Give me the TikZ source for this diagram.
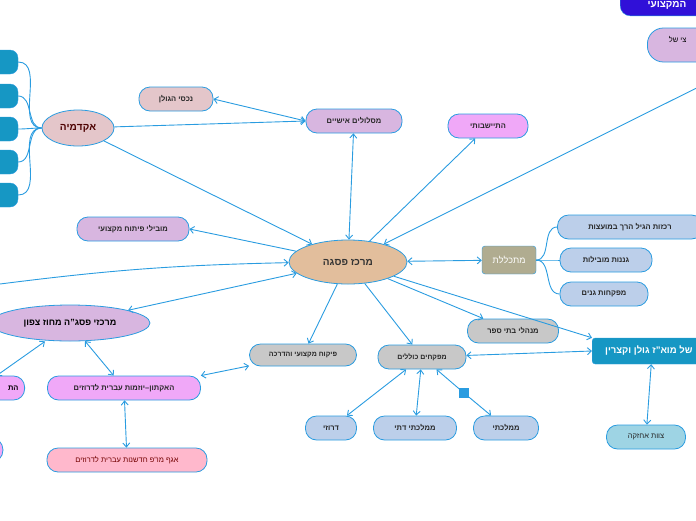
\documentclass[tikz,border=0pt]{standalone}
\usepackage{fontspec}
\setmainfont{Liberation Sans}
\TeXXeTstate=1
\usetikzlibrary{arrows.meta,shapes.geometric}
\newcommand{\R}[1]{\beginR #1\endR}
\definecolor{ln}{HTML}{2A9CE0}
\definecolor{tan}{HTML}{E2BE9C}
\definecolor{rose}{HTML}{E4C6CA}
\definecolor{lil}{HTML}{D8B6E0}
\definecolor{mag}{HTML}{F0A8F8}
\definecolor{pale}{HTML}{BCCFEA}
\definecolor{gry}{HTML}{C8C8C8}
\definecolor{teal}{HTML}{1697C4}
\definecolor{olive}{HTML}{B0AC90}
\definecolor{pnk}{HTML}{FFB8CC}
\definecolor{aq}{HTML}{9ED4E4}
\definecolor{deep}{HTML}{3010D8}
\tikzset{
 box/.style={draw=ln,line width=0.8pt,rounded corners=11pt,minimum height=24pt,font=\fontsize{7.5}{9}\selectfont\bfseries,text=black!85,inner sep=2pt},
 ell/.style={draw=ln,line width=0.8pt,ellipse,inner sep=0pt,font=\fontsize{10}{12}\selectfont\bfseries},
 con/.style={draw=ln,line width=0.9pt},
 ar/.style={con,-{Straight Barb[length=4pt,width=7pt]}},
 ra/.style={con,{Straight Barb[length=4pt,width=7pt]}-},
 bi/.style={con,{Straight Barb[length=4pt,width=7pt]}-{Straight Barb[length=4pt,width=7pt]}},
}
\begin{document}
\begin{tikzpicture}[x=1pt,y=-1pt]
\useasboundingbox (0,0) rectangle (696,520);
\clip (0,0) rectangle (696,520);
% nodes
\node[ell,fill=tan,minimum width=118pt,minimum height=44pt,text=black!80] (c) at (348,262) {\R{מרכז פסגה}};
\node[ell,fill=rose,minimum width=72pt,minimum height=36pt,text=red!30!black] (ak) at (78,128) {\R{אקדמיה}};
\foreach \y [count=\i] in {62,96,129,162,195}
  \node[draw=ln,fill=teal,rounded corners=8pt,minimum width=50pt,minimum height=24pt] (t\i) at (-7,\y) {};
\node[box,fill=rose,minimum width=74pt] (nk) at (176,99) {\R{נכסי הגולן}};
\node[box,fill=lil,minimum width=96pt] (ms) at (354,121) {\R{מסלולים אישיים}};
\node[box,fill=mag,minimum width=80pt] (ht) at (488,126) {\R{התיישבותי}};
\node[box,fill=lil,minimum width=100pt,minimum height=34pt,rounded corners=16pt,anchor=west] (tr) at (647,45) {};
\node[font=\fontsize{7.5}{9}\selectfont,anchor=east] at (690,40) {\R{צי של}};
\node[draw=ln,fill=deep,rounded corners=10pt,minimum width=100pt,minimum height=30pt,anchor=south west] (db) at (620,16) {};
\node[text=white,font=\fontsize{10}{12}\selectfont\bfseries,anchor=east] at (690,5) {\R{המקצועי}};
\node[box,fill=lil,minimum width=112pt] (mb) at (133,229) {\R{מובילי פיתוח מקצועי}};
\node[draw=ln,fill=olive,rounded corners=3pt,minimum width=54pt,minimum height=28pt,text=white,font=\fontsize{9}{10}\selectfont] (mt) at (509,260) {\R{מתכללת}};
\node[box,fill=pale,minimum width=145pt] (r1) at (630,227) {\R{רכזות הגיל הרך במועצות}};
\node[box,fill=pale,minimum width=92pt] (r2) at (606,260) {\R{גננות מובילות}};
\node[box,fill=pale,minimum width=88pt] (r3) at (604,294) {\R{מפקחות גנים}};
\node[ell,fill=lil,minimum width=160pt,minimum height=36pt,font=\fontsize{9}{11}\selectfont\bfseries] (mz) at (70,323) {\R{מרכזי פסג"ה מחוז צפון}};
\node[box,fill=mag,minimum width=56pt,anchor=east] (lp) at (25,388) {};
\node[font=\fontsize{7.5}{9}\selectfont\bfseries,anchor=east] at (22,388) {\R{הת}};
\node[draw=ln,fill=mag,circle,minimum size=26pt,line width=0.8pt] (lc) at (-10,450) {};
\node[box,fill=mag,minimum width=153pt] (ha) at (124,388) {\R{האקתון–יוזמות עברית לדרוזים}};
\node[box,fill=pnk,minimum width=160pt,text=red!45!black,font=\fontsize{7.5}{9}\selectfont] (ag) at (127,460) {\R{אגף מו"פ חדשנות עברית לדרוזים}};
\node[box,fill=gry,minimum width=107pt,minimum height=22pt,font=\fontsize{7}{9}\selectfont\bfseries] (pk) at (303,355) {\R{פיקוח מקצועי והדרכה}};
\node[box,fill=gry,minimum width=88pt,font=\fontsize{7}{9}\selectfont\bfseries] (mp) at (422,357) {\R{מפקחים כוללים}};
\node[box,fill=gry,minimum width=91pt] (mn) at (513,331) {\R{מנהלי בתי ספר}};
\node[draw=ln,fill=teal,rounded corners=3pt,minimum width=120pt,minimum height=26pt,anchor=west] (tl) at (592,351) {};
\node[text=white,font=\fontsize{9.5}{11}\selectfont\bfseries,anchor=east] at (696,351) {\R{של מוא"ז גולן וקצרין}};
\node[box,fill=aq,minimum width=79pt,font=\fontsize{7.5}{9}\selectfont] (zv) at (646,437) {\R{צוות אחזקה}};
\node[box,fill=pale,minimum width=51pt] (dr) at (331,428) {\R{דרוזי}};
\node[box,fill=pale,minimum width=83pt] (md) at (415,428) {\R{ממלכתי דתי}};
\node[box,fill=pale,minimum width=65pt] (mm) at (506,428) {\R{ממלכתי}};
\coordinate (sq) at (464,393);
\coordinate (lf) at (0,284);
% connectors
\draw[ar] (ak) -- (ms.west);
\draw[ar] (ak) -- (c);
\draw[bi] (nk.east) -- (ms.west);
\draw[bi] (ms) -- (c);
\draw[ar] (c) -- (ht);
\draw[ra] (c) -- (tr.south east);
\draw[ar] (c) -- (mb.east);
\draw[bi] (c) -- (mt);
\draw[ar] (lf) to[bend left=3] (c);
\draw[bi] (c) -- (mz);
\draw[ar] (c) -- (pk);
\draw[ar] (c) -- (mp);
\draw[ar] (c) -- (mn);
\draw[ar] (c) -- (tl.north west);
\draw[bi] (mp) -- (tl.west);
\draw[bi] (tl) -- (zv);
\draw[bi] (mp) -- (dr);
\draw[bi] (mp) -- (md);
\draw[bi] (mp) -- (sq) -- (mm);
\draw[bi] (pk) -- (ha.north east);
\draw[bi] (mz.south) ++(-25,0) -- (lp.north);
\draw[bi] (mz) -- (ha);
\draw[bi] (ha) -- (ag);
\foreach \i in {1,2,3} \draw[con] (mt.east) to[out=0,in=180] (r\i.west);
\foreach \i in {1,...,5} \draw[con] (ak.west) to[out=180,in=0] (t\i.east);
\fill[ln] (459,388) rectangle (469,398);
\end{tikzpicture}
\end{document}
